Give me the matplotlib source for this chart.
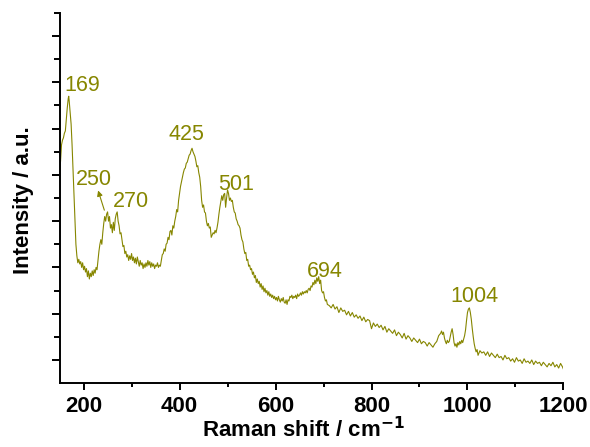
import matplotlib.pyplot as plt
from matplotlib.ticker import MultipleLocator, NullFormatter

plt.rcParams['font.family'] = ['Liberation Sans', 'DejaVu Sans']

# Raman spectrum (cm-1 vs intensity, arbitrary units)
shift = [150, 152, 154, 156, 158, 160, 162, 164, 166, 168, 169, 170, 172, 174, 176, 178, 180, 182, 184, 186,
         188, 190, 192, 194, 196, 198, 200, 202, 204, 206, 208, 210, 212, 214, 216, 218, 220, 222, 224, 226,
         228, 230, 232, 234, 236, 238, 240, 242, 244, 246, 248, 250, 252, 254, 256, 258, 260, 262, 264, 266,
         268, 270, 272, 274, 276, 278, 280, 282, 284, 286, 288, 290, 292, 294, 296, 298, 300, 302, 304, 306,
         308, 310, 312, 314, 316, 318, 320, 322, 324, 326, 328, 330, 332, 334, 336, 338, 340, 342, 344, 346,
         348, 350, 352, 354, 356, 358, 360, 362, 364, 366, 368, 370, 372, 374, 376, 378, 380, 382, 384, 386,
         388, 390, 392, 394, 396, 398, 400, 402, 404, 406, 408, 410, 412, 414, 416, 418, 420, 422, 424, 426,
         428, 430, 432, 434, 436, 438, 440, 442, 444, 446, 448, 450, 452, 454, 456, 458, 460, 462, 464, 466,
         468, 470, 472, 474, 476, 478, 480, 482, 484, 486, 488, 490, 492, 494, 496, 498, 500, 502, 504, 506,
         508, 510, 512, 514, 516, 518, 520, 522, 524, 526, 528, 530, 532, 534, 536, 538, 540, 542, 544, 546,
         548, 550, 552, 554, 556, 558, 560, 562, 564, 566, 568, 570, 572, 574, 576, 578, 580, 582, 584, 586,
         588, 590, 592, 594, 596, 598, 600, 602, 604, 606, 608, 610, 612, 614, 616, 618, 620, 622, 624, 626,
         628, 630, 632, 634, 636, 638, 640, 642, 644, 646, 648, 650, 652, 654, 656, 658, 660, 662, 664, 666,
         668, 670, 672, 674, 676, 678, 680, 682, 684, 686, 688, 690, 692, 694, 696, 698, 700, 702, 704, 706,
         708, 712, 716, 720, 724, 728, 732, 736, 740, 744, 748, 752, 756, 760, 764, 768, 772, 776, 780, 784,
         788, 792, 796, 800, 804, 808, 812, 816, 820, 824, 828, 832, 836, 840, 844, 848, 852, 856, 860, 864,
         868, 872, 876, 880, 884, 888, 892, 896, 900, 904, 908, 912, 916, 920, 924, 928, 932, 936, 940, 944,
         946, 948, 950, 952, 954, 956, 958, 960, 962, 964, 966, 968, 970, 972, 974, 976, 978, 980, 982, 984,
         986, 988, 990, 992, 994, 996, 998, 1000, 1002, 1004, 1006, 1008, 1010, 1012, 1014, 1016, 1018, 1020,
         1022, 1026, 1030, 1034, 1038, 1042, 1046, 1050, 1054, 1058, 1062, 1066, 1070, 1074, 1078, 1082, 1086,
         1090, 1094, 1098, 1102, 1106, 1110, 1114, 1118, 1122, 1126, 1130, 1134, 1138, 1142, 1146, 1150, 1154,
         1158, 1162, 1166, 1170, 1174, 1178, 1182, 1186, 1190, 1194, 1198, 1200]

intensity = [9.1, 9.6, 10.3, 10.5, 10.6, 10.8, 10.9, 11.4, 11.9, 12.3, 12.4, 12.2, 11.7, 11.2, 10.3, 9.2, 8.0, 6.9, 6.0, 5.5,
             5.2, 5.35, 5.15, 5.25, 5.0, 5.2, 4.9, 5.05, 4.8, 4.95, 4.6, 4.85, 4.5, 4.75, 4.6, 4.85, 4.65, 4.9, 4.75, 5.0,
             4.9, 5.3, 5.7, 6.0, 6.2, 6.0, 6.5, 6.9, 7.2, 7.0, 7.3, 7.4, 7.0, 7.2, 6.7, 6.85, 6.5, 6.95, 6.6, 7.1,
             7.3, 7.4, 7.0, 6.8, 6.45, 6.5, 6.2, 5.9, 5.95, 5.6, 5.7, 5.45, 5.55, 5.3, 5.5, 5.35, 5.6, 5.3, 5.45, 5.2,
             5.4, 5.15, 5.45, 5.25, 5.05, 5.3, 5.1, 5.2, 4.95, 5.15, 5.0, 5.2, 5.05, 5.3, 5.1, 5.25, 5.0, 5.2, 5.05, 5.15,
             4.95, 5.1, 5.05, 5.2, 5.0, 5.1, 5.05, 5.3, 5.55, 5.6, 5.8, 5.7, 6.0, 6.05, 6.3, 6.2, 6.55, 6.6, 6.4, 6.8,
             6.7, 7.0, 7.2, 7.5, 7.4, 7.9, 8.2, 8.5, 8.7, 8.9, 9.1, 9.25, 9.3, 9.5, 9.55, 9.7, 9.85, 9.9, 10.05, 10.15,
             10.0, 9.9, 9.8, 9.6, 9.35, 9.4, 9.1, 8.9, 8.5, 7.9, 7.6, 7.7, 7.4, 7.35, 7.0, 6.8, 6.9, 6.7, 6.75, 6.3,
             6.4, 6.5, 6.45, 6.6, 6.5, 6.7, 6.95, 7.3, 7.6, 7.85, 8.1, 7.9, 8.15, 8.2, 7.6, 8.0, 8.35, 8.2, 7.9, 8.0,
             7.85, 7.9, 7.6, 7.4, 7.35, 7.1, 7.0, 6.85, 6.8, 6.7, 6.4, 6.2, 6.1, 5.8, 5.6, 5.65, 5.3, 5.35, 5.05, 5.1,
             4.9, 4.95, 4.7, 4.8, 4.55, 4.65, 4.35, 4.5, 4.3, 4.4, 4.15, 4.3, 4.05, 4.2, 3.95, 4.1, 3.9, 4.0, 3.8, 3.95,
             3.75, 3.85, 3.7, 3.8, 3.65, 3.75, 3.6, 3.7, 3.55, 3.75, 3.6, 3.5, 3.65, 3.55, 3.7, 3.5, 3.45, 3.6, 3.4, 3.6,
             3.55, 3.75, 3.7, 3.8, 3.65, 3.75, 3.7, 3.8, 3.65, 3.85, 3.75, 3.8, 3.9, 3.8, 3.95, 3.85, 3.95, 3.9, 4.0, 3.9,
             4.05, 4.1, 4.0, 4.2, 4.15, 4.35, 4.25, 4.45, 4.3, 4.55, 4.4, 4.6, 4.3, 4.45, 4.0, 3.9, 3.95, 3.7, 3.55, 3.6,
             3.4, 3.35, 3.25, 3.4, 3.2, 3.3, 3.05, 3.25, 3.1, 3.15, 2.95, 3.1, 2.9, 3.05, 2.85, 2.95, 2.8, 2.9, 2.7, 2.85,
             2.65, 2.75, 2.7, 2.35, 2.6, 2.45, 2.55, 2.4, 2.5, 2.3, 2.45, 2.2, 2.35, 2.25, 2.15, 2.3, 2.05, 2.2, 2.1, 1.95,
             2.15, 1.9, 2.05, 1.95, 1.8, 1.95, 1.85, 1.75, 1.9, 1.7, 1.8, 1.75, 1.6, 1.75, 1.65, 1.55, 1.7, 1.8, 2.05, 2.15,
             2.25, 2.1, 2.2, 1.95, 1.8, 1.7, 1.85, 1.75, 1.8, 2.0, 2.2, 2.35, 2.1, 1.75, 1.6, 1.7, 1.55, 1.75, 1.65, 1.8,
             1.7, 1.85, 1.75, 1.9, 2.05, 2.3, 2.7, 3.05, 3.2, 3.25, 3.05, 2.75, 2.35, 2.0, 1.7, 1.5, 1.35, 1.45,
             1.2, 1.4, 1.3, 1.35, 1.2, 1.35, 1.15, 1.3, 1.2, 1.1, 1.25, 1.1, 1.15, 1.0, 1.2, 1.05, 1.1,
             0.95, 1.05, 0.9, 1.1, 0.95, 1.0, 0.85, 1.05, 0.9, 0.95, 0.85, 1.0, 0.8, 0.95, 0.85, 0.9, 0.75,
             0.9, 0.8, 0.7, 0.85, 0.75, 0.9, 0.7, 0.8, 0.65, 0.85, 0.7, 0.6]

# labelled bands and where their numbers sit
peaks = [169, 250, 270, 425, 501, 694, 1004]
label_x = [160, 183, 262, 376, 481, 666, 964]
label_y = [12.64, 8.57, 7.62, 10.52, 8.35, 4.59, 3.5]

color = '#868600'

fig = plt.figure(figsize=(5.9, 4.47), dpi=100)
ax = fig.add_axes([0.101, 0.143, 0.854, 0.828])

ax.plot(shift, intensity, color=color, lw=0.8)

for p, tx, ty in zip(peaks, label_x, label_y):
    ax.text(tx, ty, str(p), color=color, fontsize=15.5, ha='left', va='baseline')

# small arrow pointing from the 250 band up to its label
ax.annotate('', xy=(228.5, 8.44), xytext=(245, 7.36),
            arrowprops=dict(arrowstyle='-|>', color=color, lw=0.8, mutation_scale=8))

ax.set_xlim(150, 1200)
ax.set_ylim(0, 16)
ax.xaxis.set_major_locator(MultipleLocator(200))
ax.xaxis.set_minor_locator(MultipleLocator(100))
ax.set_yticks([1, 3, 5, 7, 9, 11, 13, 15])
ax.set_yticks([2, 4, 6, 8, 10, 12, 14, 16], minor=True)
ax.yaxis.set_major_formatter(NullFormatter())

for s in ['top', 'right']:
    ax.spines[s].set_visible(False)
for s in ['left', 'bottom']:
    ax.spines[s].set_linewidth(1.4)

ax.tick_params(axis='x', which='major', length=5, width=1.4, labelsize=16, pad=4)
ax.tick_params(axis='x', which='minor', length=3, width=1.4)
ax.tick_params(axis='y', which='major', length=5.5, width=1.4)
ax.tick_params(axis='y', which='minor', length=4.5, width=1.4)
for lbl in ax.get_xticklabels():
    lbl.set_fontweight('bold')

ax.set_xlabel('Raman shift / cm$^{\\mathbf{-1}}$', fontsize=16, fontweight='bold')
ax.xaxis.set_label_coords(0.484, -0.092)
ax.set_ylabel('Intensity / a.u.', fontsize=16, fontweight='bold')
ax.yaxis.set_label_coords(-0.05, 0.495)

fig.savefig('out.png', dpi=100)
